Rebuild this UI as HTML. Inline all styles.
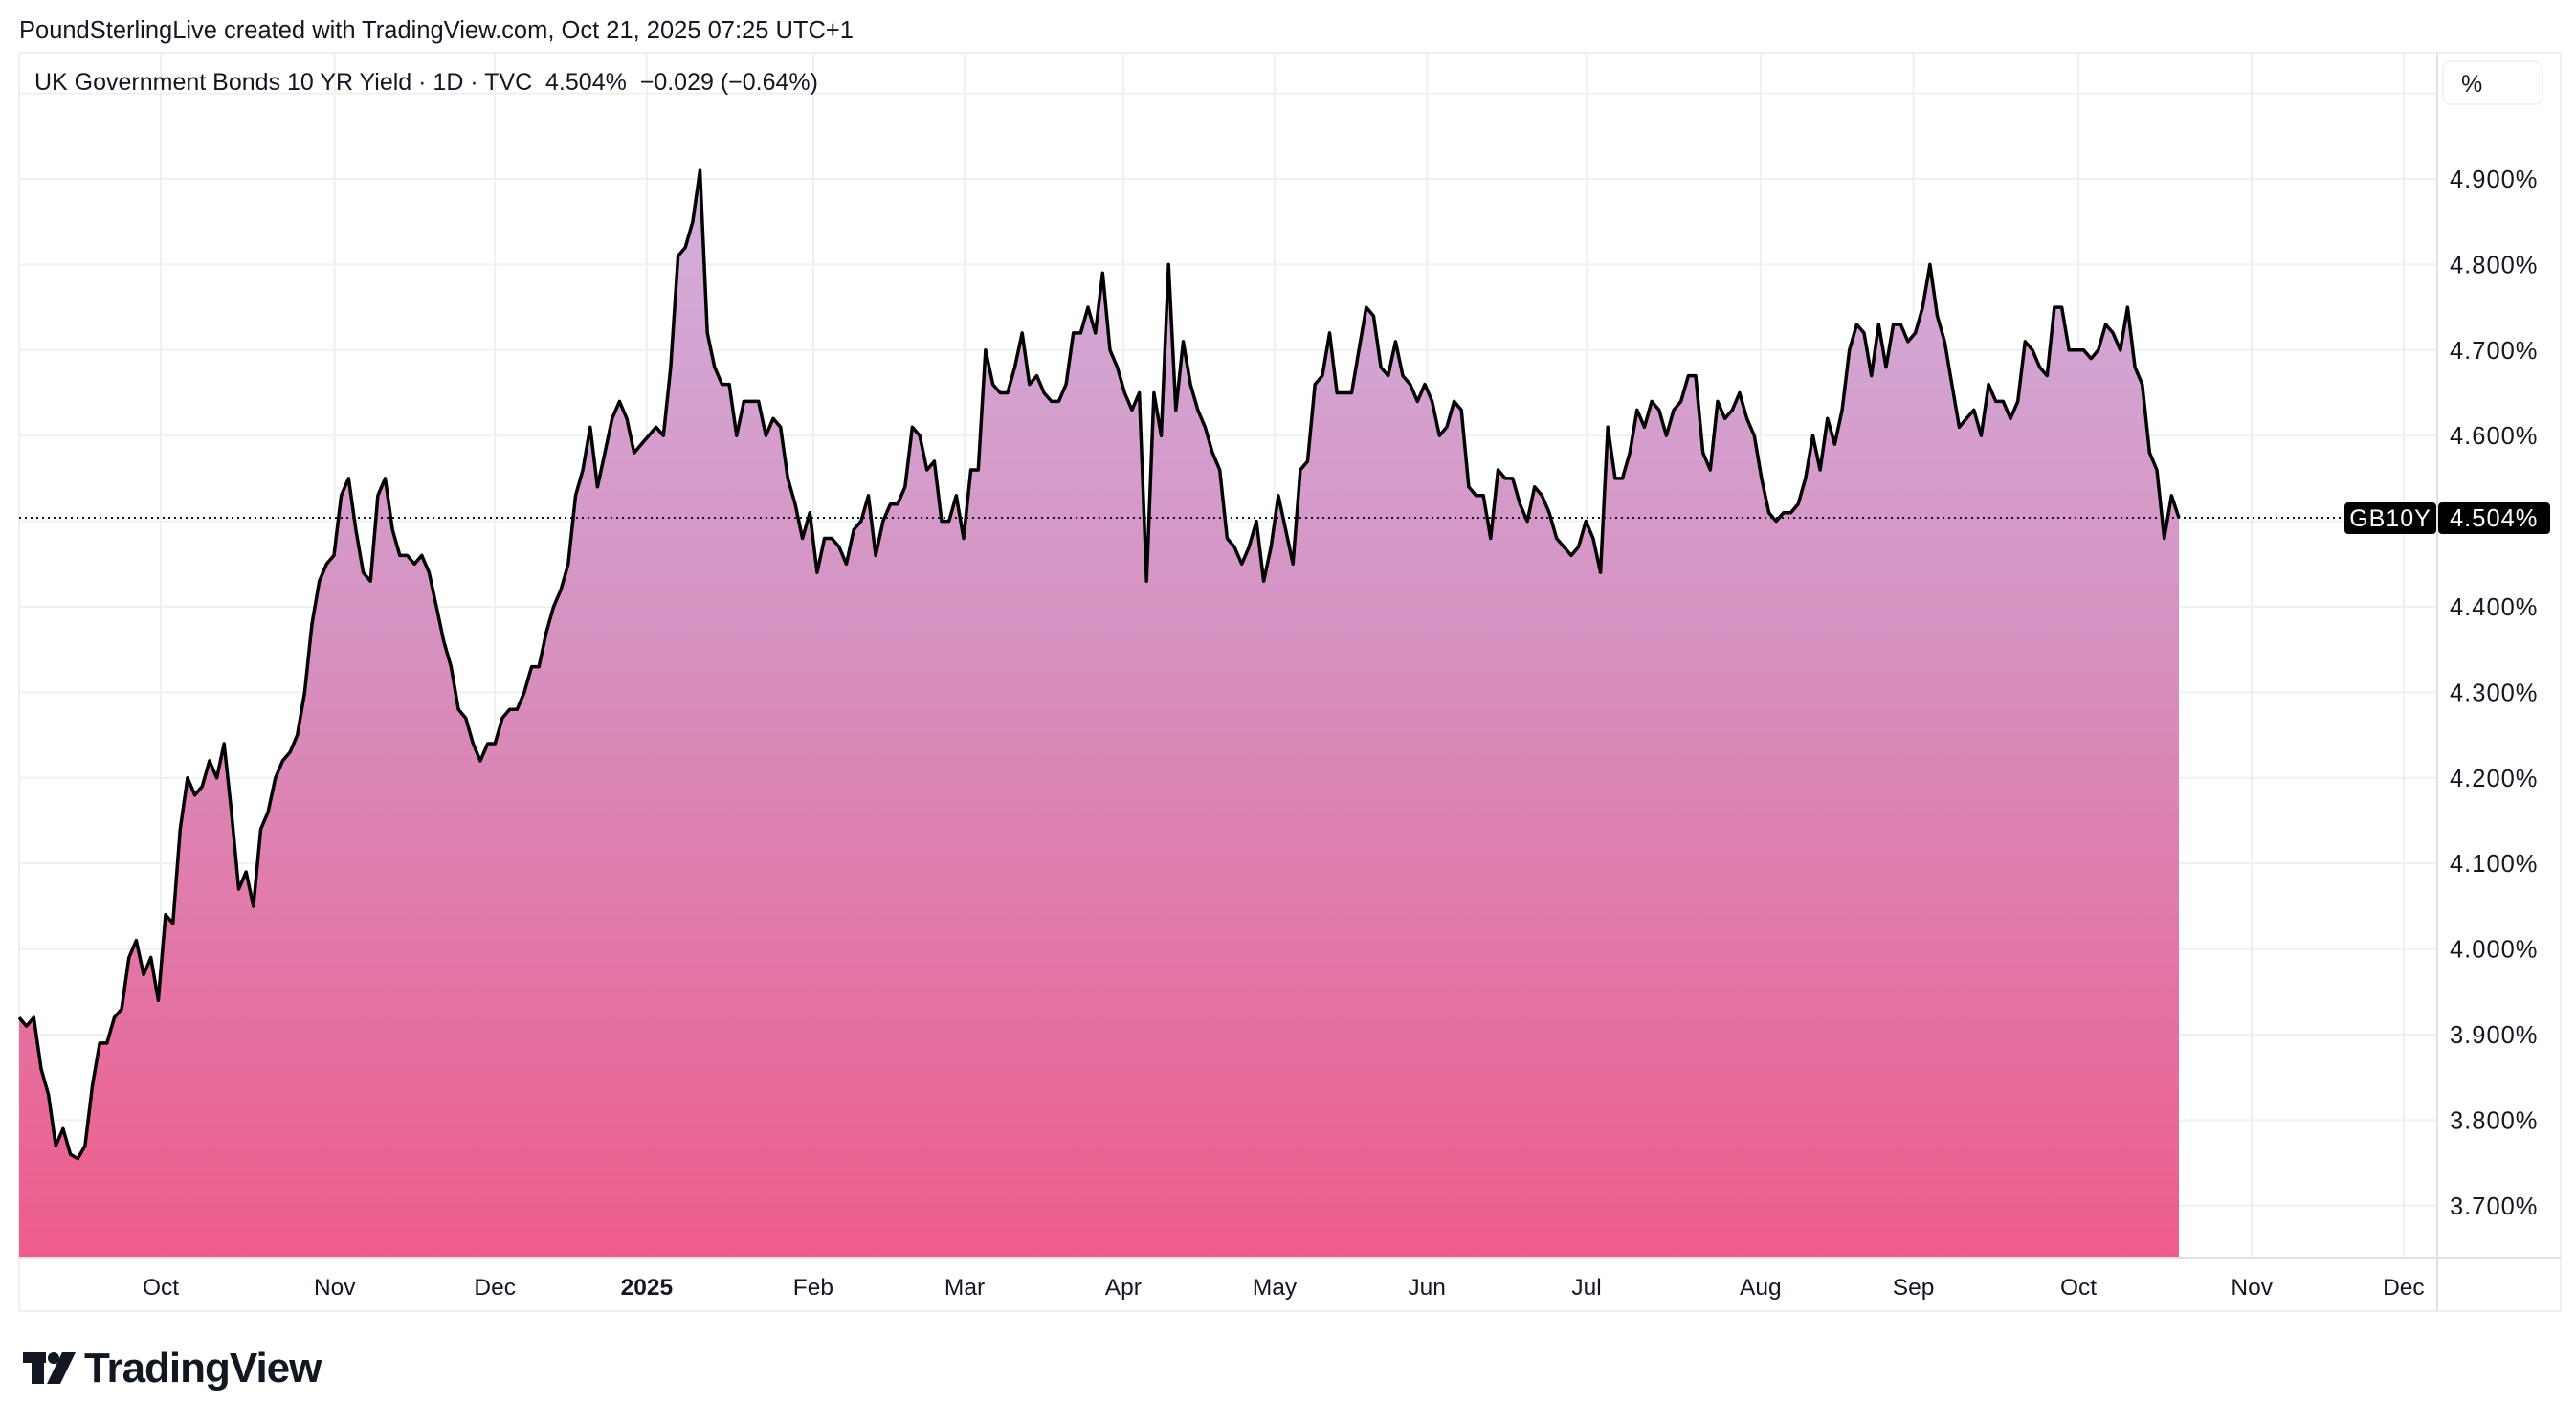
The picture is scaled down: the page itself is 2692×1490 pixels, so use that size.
<!DOCTYPE html>
<html><head><meta charset="utf-8"><style>
html,body{margin:0;padding:0;background:#fff;}
svg{display:block;font-family:"Liberation Sans",sans-serif;}
</style></head><body>
<svg id="chart" width="2692" height="1490" viewBox="0 0 2692 1490" xmlns="http://www.w3.org/2000/svg">
<defs>
<linearGradient id="fillGrad" gradientUnits="userSpaceOnUse" x1="0" y1="170" x2="0" y2="1314">
<stop offset="0" stop-color="#d3b0dc"/>
<stop offset="0.45" stop-color="#d690c0"/>
<stop offset="1" stop-color="#ee5c8c"/>
</linearGradient>
</defs>
<text x="20" y="40" font-size="25.5" fill="#131722">PoundSterlingLive created with TradingView.com, Oct 21, 2025 07:25 UTC+1</text>
<rect x="20" y="55" width="2656" height="1315" fill="none" stroke="#f0f0f0" stroke-width="2"/>
<g id="grid"></g>
<g id="series"></g>
<line x1="20" y1="1314" x2="2676" y2="1314" stroke="#e0e3e6" stroke-width="2"/>
<line x1="2547" y1="55" x2="2547" y2="1370" stroke="#e0e3e6" stroke-width="2"/>
<g id="xlabels"></g>
<g id="ylabels"></g>
<text x="36" y="94" font-size="25" fill="#131722" xml:space="preserve">UK Government Bonds 10 YR Yield · 1D · TVC  4.504%  −0.029 (−0.64%)</text>
<rect x="2553" y="64" width="104" height="45" rx="8" fill="#fff" stroke="#f0f3f5" stroke-width="2"/>
<text x="2572" y="96" font-size="25" fill="#131722">%</text>
<g>
<rect x="24" y="1413" width="24" height="11" fill="#131722"/><rect x="33" y="1413" width="13" height="33" fill="#131722"/>
<circle cx="56" cy="1419" r="6" fill="#131722"/><polygon points="65,1413 79,1413 63,1446 49,1446" fill="#131722"/>
<text x="88" y="1444" font-size="44" font-weight="bold" fill="#131722" letter-spacing="-1">TradingView</text>
</g>
</svg>
<script>
const yTicks = [3.7,3.8,3.9,4.0,4.1,4.2,4.3,4.4,4.5,4.6,4.7,4.8,4.9,5.0];
const xTickLabels = ["Oct","Nov","Dec","2025","Feb","Mar","Apr","May","Jun","Jul","Aug","Sep","Oct","Nov","Dec"];
const xTickDays = [27,60.1,90.6,119.5,151.2,180,210.2,239,268,298.4,331.5,360.6,392,425,453.9];
const lastValue = 4.504;
const values = [3.92,3.91,3.92,3.86,3.83,3.77,3.79,3.76,3.755,3.77,3.84,3.89,3.89,3.92,3.93,3.99,4.01,3.97,3.99,3.94,
4.04,4.03,4.14,4.20,4.18,4.19,4.22,4.20,4.24,4.16,4.07,4.09,4.05,4.14,4.16,4.20,4.22,4.23,4.25,4.30,4.38,4.43,4.45,4.46,
4.53,4.55,4.49,4.44,4.43,4.53,4.55,4.49,4.46,4.46,4.45,4.46,4.44,4.40,4.36,4.33,4.28,4.27,4.24,4.22,4.24,4.24,
4.27,4.28,4.28,4.30,4.33,4.33,4.37,4.40,4.42,4.45,4.53,4.56,4.61,4.54,4.58,4.62,4.64,4.62,4.58,4.59,4.60,4.61,4.60,
4.68,4.81,4.82,4.85,4.91,4.72,4.68,4.66,4.66,4.60,4.64,4.64,4.64,4.60,4.62,4.61,4.55,4.52,4.48,4.51,
4.44,4.48,4.48,4.47,4.45,4.49,4.50,4.53,4.46,4.50,4.52,4.52,4.54,4.61,4.60,4.56,4.57,4.50,4.50,4.53,4.48,
4.56,4.56,4.70,4.66,4.65,4.65,4.68,4.72,4.66,4.67,4.65,4.64,4.64,4.66,4.72,4.72,4.75,4.72,4.79,4.70,4.68,4.65,4.63,4.65,
4.43,4.65,4.60,4.80,4.63,4.71,4.66,4.63,4.61,4.58,4.56,4.48,4.47,4.45,4.47,4.50,4.43,4.47,4.53,4.49,4.45,
4.56,4.57,4.66,4.67,4.72,4.65,4.65,4.65,4.70,4.75,4.74,4.68,4.67,4.71,4.67,4.66,4.64,4.66,4.64,4.60,4.61,4.64,4.63,
4.54,4.53,4.53,4.48,4.56,4.55,4.55,4.52,4.50,4.54,4.53,4.51,4.48,4.47,4.46,4.47,4.50,4.48,4.44,
4.61,4.55,4.55,4.58,4.63,4.61,4.64,4.63,4.60,4.63,4.64,4.67,4.67,4.58,4.56,4.64,4.62,4.63,4.65,4.62,4.60,4.55,
4.51,4.50,4.51,4.51,4.52,4.55,4.60,4.56,4.62,4.59,4.63,4.70,4.73,4.72,4.67,4.73,4.68,4.73,4.73,4.71,4.72,4.75,4.80,
4.74,4.71,4.66,4.61,4.62,4.63,4.60,4.66,4.64,4.64,4.62,4.64,4.71,4.70,4.68,4.67,4.75,4.75,4.70,4.70,4.70,4.69,4.70,
4.73,4.72,4.70,4.75,4.68,4.66,4.58,4.56,4.48,4.53,4.504];

const NS="http://www.w3.org/2000/svg";
const plotL=20, plotR=2547, plotB=1314, plotT=55;
const seriesX0=20, seriesX1=2277;
function yScale(v){return 187+(4.9-v)*894;}
function xIndex(i){return seriesX0+(seriesX1-seriesX0)*i/(values.length-1);}
function xDay(d){return 168+(d-27)*(2172-168)/(392-27);}
function mk(tag,attrs,parent){const e=document.createElementNS(NS,tag);for(const k in attrs)e.setAttribute(k,attrs[k]);parent.appendChild(e);return e;}

const grid=document.getElementById('grid');
yTicks.forEach(v=>{
  const y=yScale(v);
  if(y<plotT||y>plotB)return;
  const l=mk('line',{x1:plotL,x2:plotR,y1:y,y2:y,stroke:'#f0f0f0','stroke-width':2},grid);
  
  
});
xTickDays.forEach(d=>{
  const x=xDay(d);
  const l=mk('line',{x1:x,x2:x,y1:plotT,y2:plotB,stroke:'#f0f0f0','stroke-width':2},grid);
  
  
});

const series=document.getElementById('series');
let pts=values.map((v,i)=>xIndex(i).toFixed(1)+','+yScale(v).toFixed(1));
const area=mk('path',{d:'M'+seriesX0+','+plotB+' L'+pts.join(' L')+' L'+seriesX1+','+plotB+' Z',fill:'url(#fillGrad)'},series);


const ly=yScale(lastValue);
const dl=mk('line',{x1:plotL,x2:2450,y1:ly,y2:ly,stroke:'#131722','stroke-width':2,'stroke-dasharray':'2,4'},series);


const line=mk('polyline',{points:pts.join(' '),fill:'none',stroke:'#000','stroke-width':3.5,'stroke-linejoin':'round'},series);



const xl=document.getElementById('xlabels');
xTickLabels.forEach((t,i)=>{
  const e=mk('text',{x:xDay(xTickDays[i]),y:1353,'font-size':24.5,'text-anchor':'middle',fill:'#131722','font-weight':t==='2025'?'bold':'normal'},xl);
  e.textContent=t;
  
  
});
const yl=document.getElementById('ylabels');
yTicks.forEach(v=>{
  const y=yScale(v);
  if(y<150||y>plotB)return;
  const e=mk('text',{x:2560,y:y+9,'font-size':25.5,fill:'#131722','letter-spacing':1},yl);
  e.textContent=v.toFixed(3)+'%';
  
  
});
const b1=mk('rect',{x:2450,y:ly-16,width:96,height:33,rx:4,fill:'#000'},yl);


const t1=mk('text',{x:2498,y:ly+9,'font-size':25,'text-anchor':'middle',fill:'#fff','letter-spacing':1},yl);
t1.textContent='GB10Y';


const b2=mk('rect',{x:2548,y:ly-16,width:117,height:33,rx:4,fill:'#000'},yl);


const t2=mk('text',{x:2560,y:ly+9,'font-size':25.5,fill:'#fff','letter-spacing':1},yl);
t2.textContent=lastValue.toFixed(3)+'%';


</script>
</body></html>
